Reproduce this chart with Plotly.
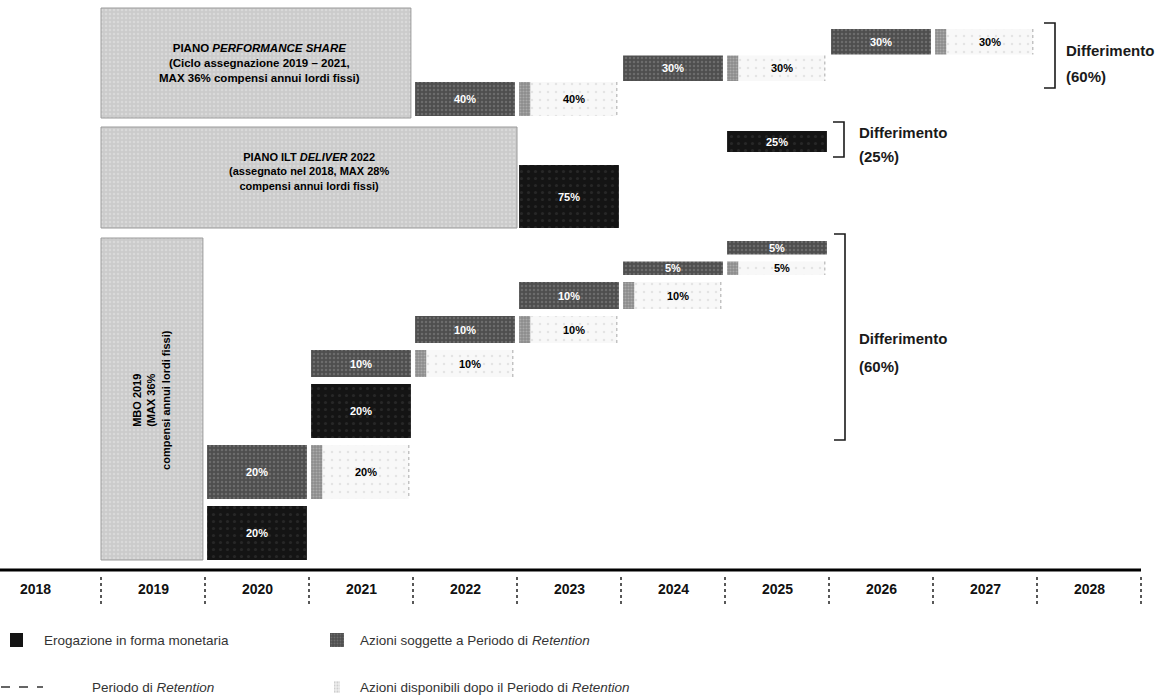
import plotly.graph_objects as go

# ---- data -------------------------------------------------------------
years = list(range(2018, 2029))

# Piano Performance Share: deferred share tranches (% of the award)
perf_years = [2022, 2024, 2026]
perf_pct = [40, 30, 30]

# Piano ILT Deliver 2022: cash tranches
ilt_years = [2023, 2025]
ilt_pct = [75, 25]

# MBO 2019: cash and share tranches
mbo_cash_years = [2020, 2021]
mbo_cash_pct = [20, 20]
mbo_share_years = [2020, 2021, 2022, 2023, 2024, 2025]
mbo_share_pct = [20, 10, 10, 10, 5, 5]

# deferred share of each plan shown next to the brackets
deferral_pct = {"perf": 60, "ilt": 25, "mbo": 60}

legend_labels = [
    "Erogazione in forma monetaria",
    "Azioni soggette a Periodo di <i>Retention</i>",
    "Periodo di <i>Retention</i>",
    "Azioni disponibili dopo il Periodo di <i>Retention</i>",
]

# ---- styling ----------------------------------------------------------
W, H = 1167, 697
FONT = "Liberation Sans, Arial, sans-serif"
X0_YEAR = 2019 - 153 / 104          # left edge of the canvas, in years
X1_YEAR = 2019 + (W - 153) / 104    # right edge of the canvas, in years

CASH = "#141414"
SHARE = "#4e4e4e"
RETAIN = "#8c8c8c"
AVAIL = "#f8f8f8"
PLAN = "#cbcbcb"

fig = go.Figure()
annotations = []
shapes = []


def px(xp):
    """canvas pixel column -> year coordinate"""
    return X0_YEAR + xp / 104


def hbar(x0, x1, y_top, y_bot, color, pattern=None, line=None):
    marker = dict(color=color, line=line or dict(width=0))
    if pattern:
        marker["pattern"] = pattern
    fig.add_trace(go.Bar(
        orientation="h", base=[x0], x=[x1 - x0],
        y=[(y_top + y_bot) / 2], width=[y_bot - y_top],
        marker=marker, hoverinfo="skip", showlegend=False,
    ))


def label(x, y, text, color="black", size=11, bold=True, **kw):
    annotations.append(dict(
        x=x, y=y, xref="x", yref="y", showarrow=False,
        text=f"<b>{text}</b>" if bold else text,
        font=dict(family=FONT, size=size, color=color), **kw))


def tranche(kind, year, pct, y_top, y_bot, tail=True):
    if kind == "cash":
        hbar(year - 0.48, year + 0.48, y_top, y_bot, CASH,
             pattern=dict(shape=".", fgcolor="#3a3a3a", size=7, solidity=0.15))
        label(year, (y_top + y_bot) / 2, f"{pct}%", color="white")
        return
    hbar(year - 0.48, year + 0.48, y_top, y_bot, SHARE,
         pattern=dict(shape=".", fgcolor="#8a8a8a", size=4, solidity=0.3))
    label(year, (y_top + y_bot) / 2, f"{pct}%", color="white")
    if tail:
        hbar(year + 0.52, year + 0.63, y_top, y_bot, RETAIN,
             pattern=dict(shape=".", fgcolor="#c8c8c8", size=3, solidity=0.4))
        hbar(year + 0.63, year + 1.46, y_top, y_bot, AVAIL,
             pattern=dict(shape=".", fgcolor="#cfcfcf", size=8, solidity=0.08))
        shapes.append(dict(type="line", xref="x", yref="y",
                           x0=year + 1.46, x1=year + 1.46, y0=y_top, y1=y_bot,
                           line=dict(color="#a8a8a8", width=1, dash="dot")))
        label(year + 1.05, (y_top + y_bot) / 2, f"{pct}%")


def plan_box(x0, x1, y_top, y_bot):
    hbar(x0, x1, y_top, y_bot, PLAN,
         pattern=dict(shape=".", fgcolor="#e6e6e6", size=4, solidity=0.3),
         line=dict(color="#9a9a9a", width=1))


def bracket(x_pix, y_top, y_bot, tick=11):
    x = px(x_pix)
    xt = px(x_pix - tick)
    shapes.append(dict(type="path", xref="x", yref="y",
                       path=f"M {xt} {y_top} L {x} {y_top} L {x} {y_bot} L {xt} {y_bot}",
                       line=dict(color="#1a1a1a", width=1.6)))


def differimento(x_pix, y1, y2, pct):
    for txt, yy in (("Differimento", y1), (f"({pct}%)", y2)):
        annotations.append(dict(
            x=px(x_pix), y=yy, xref="x", yref="y", showarrow=False,
            xanchor="left", text=f"<b>{txt}</b>",
            font=dict(family=FONT, size=15, color="#1a1a1a")))


# ---- Piano Performance Share -----------------------------------------
plan_box(2018.5, 2021.48, 8, 118)
label(2020.02, 63,
      "PIANO <i>PERFORMANCE SHARE</i><br>(Ciclo assegnazione 2019 – 2021,<br>"
      "MAX 36% compensi annui lordi fissi)", size=11.5)
bottom, scale, gap = 116, 0.85, 1
for yr, p in zip(perf_years, perf_pct):
    h = p * scale
    tranche("share", yr, p, bottom - h, bottom)
    bottom -= h + gap
bracket(1055, 23, 88)
differimento(1064, 50, 76, deferral_pct["perf"])

# ---- Piano ILT Deliver 2022 ------------------------------------------
plan_box(2018.5, 2022.5, 127, 228)
label(2020.5, 171,
      "PIANO ILT <i>DELIVER</i> 2022<br>(assegnato nel 2018, MAX 28%<br>"
      "compensi annui lordi fissi)", size=11)
bottom, scale, gap = 228, 0.84, 13
for yr, p in zip(ilt_years, ilt_pct):
    h = p * scale
    tranche("cash", yr, p, bottom - h, bottom)
    bottom -= h + gap
bracket(844, 122, 157)
differimento(857, 132, 156, deferral_pct["ilt"])

# ---- MBO 2019 --------------------------------------------------------
plan_box(2018.5, 2019.48, 238, 560)
annotations.append(dict(
    x=2018.98, y=400, xref="x", yref="y", showarrow=False, textangle=-90,
    text="<b>MBO 2019</b><br><b>(MAX 36%</b><br><b>compensi annui lordi fissi)</b>",
    font=dict(family=FONT, size=11, color="black")))
mbo = []
for yr in sorted(set(mbo_cash_years) | set(mbo_share_years)):
    if yr in mbo_cash_years:
        mbo.append(("cash", yr, mbo_cash_pct[mbo_cash_years.index(yr)]))
    if yr in mbo_share_years:
        mbo.append(("share", yr, mbo_share_pct[mbo_share_years.index(yr)]))
bottom, scale, gap = 560, 2.7, 7
last_share = max(mbo_share_years)
for kind, yr, p in mbo:
    h = p * scale
    tranche(kind, yr, p, bottom - h, bottom, tail=(yr != last_share))
    bottom -= h + gap
bracket(845, 234, 440)
differimento(857, 338, 366, deferral_pct["mbo"])

# ---- timeline axis ---------------------------------------------------
shapes.append(dict(type="line", xref="x", yref="y", x0=X0_YEAR, x1=2028.5,
                   y0=570, y1=570, line=dict(color="black", width=3)))
for yr in years:
    label(yr if yr > 2018 else 2017.87, 589, str(yr), size=14, color="#111111")
    shapes.append(dict(type="line", xref="x", yref="y", x0=yr + 0.5, x1=yr + 0.5,
                       y0=577, y1=606, line=dict(color="#222222", width=1.5, dash="dot")))

# ---- legend ----------------------------------------------------------
hbar(px(10), px(23), 633, 647, CASH)
hbar(px(330), px(344), 633, 647, SHARE,
     pattern=dict(shape=".", fgcolor="#8a8a8a", size=3, solidity=0.3))
hbar(px(334), px(340), 681, 693, "#ececec",
     pattern=dict(shape=".", fgcolor="#b0b0b0", size=3, solidity=0.3))
shapes.append(dict(type="line", xref="x", yref="y", x0=px(1), x1=px(43),
                   y0=687, y1=687, line=dict(color="#333333", width=1.5, dash="dash")))
legend_pos = [(42, 640), (358, 640), (90, 687), (358, 687)]
for txt, (lx, ly) in zip(legend_labels, legend_pos):
    annotations.append(dict(
        x=px(lx), y=ly, xref="x", yref="y", showarrow=False, xanchor="left",
        text=txt, font=dict(family=FONT, size=13.5, color="#333333")))

fig.update_layout(
    width=W, height=H, margin=dict(l=0, r=0, t=0, b=0),
    paper_bgcolor="white", plot_bgcolor="white",
    barmode="overlay", showlegend=False,
    xaxis=dict(range=[X0_YEAR, X1_YEAR], visible=False, fixedrange=True),
    yaxis=dict(range=[H, 0], visible=False, fixedrange=True),
    shapes=shapes, annotations=annotations,
)

fig.write_html("out.html")
